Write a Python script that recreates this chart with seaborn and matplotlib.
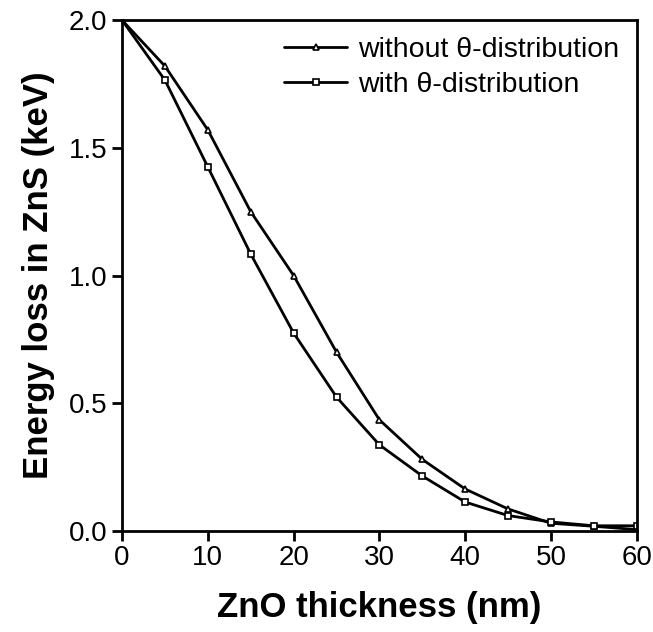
import seaborn as sns
import matplotlib.pyplot as plt
import pandas as pd

thickness = [0, 5, 10, 15, 20, 25, 30, 35, 40, 45, 50, 55, 60]
without_theta = [2.0, 1.82, 1.57, 1.25, 1.00, 0.70, 0.435, 0.28, 0.164, 0.086, 0.03, 0.018, 0.005]
with_theta = [2.0, 1.765, 1.425, 1.084, 0.775, 0.524, 0.337, 0.215, 0.113, 0.06, 0.035, 0.02, 0.02]

df = pd.concat([
    pd.DataFrame({"x": thickness, "y": without_theta, "series": "without \u03b8-distribution"}),
    pd.DataFrame({"x": thickness, "y": with_theta, "series": "with \u03b8-distribution"}),
])

sns.set_style("ticks")
plt.rcParams['font.family'] = ['Liberation Sans', 'DejaVu Sans']
plt.rcParams['text.color'] = 'black'
plt.rcParams['axes.labelcolor'] = 'black'

fig = plt.figure(figsize=(6.53, 6.32), dpi=100)
ax = fig.add_axes([0.187, 0.160, 0.788, 0.808])

sns.lineplot(data=df, x="x", y="y", hue="series", style="series",
             palette=["black", "black"], markers=["^", "s"], dashes=False,
             markersize=5, markerfacecolor="white", markeredgecolor="black",
             markeredgewidth=1.2, linewidth=2, ax=ax)

ax.set_xlim(0, 60)
ax.set_ylim(0, 2.0)
ax.set_xticks(range(0, 61, 10))
ax.set_yticks([0.0, 0.5, 1.0, 1.5, 2.0])
ax.set_yticklabels(["0.0", "0.5", "1.0", "1.5", "2.0"])
ax.tick_params(labelsize=20, width=2, length=7, direction="out", colors="black")
for s in ax.spines.values():
    s.set_linewidth(2)
    s.set_color("black")

ax.set_xlabel("ZnO thickness (nm)", fontsize=25, fontweight="bold", labelpad=14)
ax.set_ylabel("Energy loss in ZnS (keV)", fontsize=25, fontweight="bold", labelpad=10)

leg = ax.legend(loc="upper right", frameon=False, fontsize=20.5, handlelength=2.2,
                borderaxespad=0.2, handletextpad=0.4, labelspacing=0.3)

fig.savefig("out.png", dpi=100)
